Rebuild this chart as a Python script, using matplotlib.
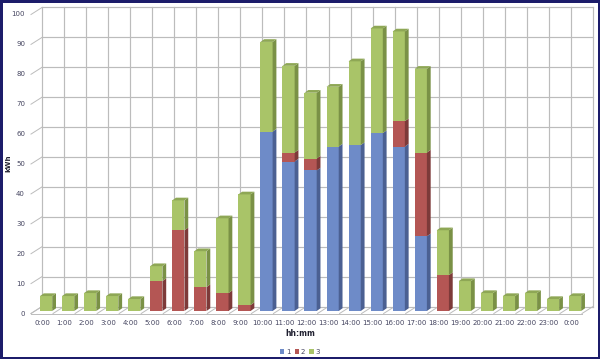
import matplotlib.pyplot as plt
from matplotlib.patches import Polygon

hours = ["0:00", "1:00", "2:00", "3:00", "4:00", "5:00", "6:00", "7:00", "8:00", "9:00",
         "10:00", "11:00", "12:00", "13:00", "14:00", "15:00", "16:00", "17:00", "18:00",
         "19:00", "20:00", "21:00", "22:00", "23:00", "0:00"]
s1 = [0, 0, 0, 0, 0, 0, 0, 0, 0, 0, 60, 50, 47, 55, 55.5, 59.5, 55, 25, 0, 0, 0, 0, 0, 0, 0]
s2 = [0, 0, 0, 0, 0, 10, 27, 8, 6, 2, 0, 3, 4, 0, 0, 0, 8.5, 28, 12, 0, 0, 0, 0, 0, 0]
s3 = [5, 5, 6, 5, 4, 5, 10, 12, 25, 37, 30, 29, 22, 20, 28, 35, 30, 28, 15, 10, 6, 5, 6, 4, 5]
yticks = list(range(0, 101, 10))

series = [("1", s1, "#6e8bc8", "#4b6092", "#5d77b0"),
          ("2", s2, "#b45654", "#7d3a39", "#9a4847"),
          ("3", s3, "#a9c468", "#7a9146", "#8ea755")]

# pixel scale: 22.04 px per category, 2.99 px per kWh
PX = 1 / 22.04
PY = 1 / 2.99
WX, WY = 11 * PX, 4.5 * PY        # back wall offset
FY = WY - 7 * PY                  # floor front edge
BX0, BW = 9 * PX, 12.2 * PX       # bar front face
DX, DY = 3.8 * PX, 2.7 * PY       # bar depth
GRID = "#bcbcbc"
TXT = "#454560"

fig = plt.figure(figsize=(6, 3.59), dpi=100)
fig.patch.set_edgecolor("#1c1c6a")
fig.patch.set_linewidth(2.2)
ax = fig.add_axes([0, 0, 1, 1])
ax.set_xlim(-31 * PX, 569 * PX)
ax.set_ylim(-48 * PY, 311 * PY)
ax.axis("off")

n = len(hours)

# back wall grid
for v in yticks:
    ax.plot([WX, n + WX], [v + WY, v + WY], color=GRID, lw=0.85, zorder=1)
    ax.plot([0, WX], [v + FY, v + WY], color=GRID, lw=0.7, zorder=1)
    ax.text(-6 * PX, v + FY, str(v), ha="right", va="center", fontsize=5, color=TXT)
for k in range(n + 1):
    ax.plot([k + WX, k + WX], [WY, 100 + WY], color=GRID, lw=0.85, zorder=1)
    ax.plot([k, k + WX], [FY, WY], color=GRID, lw=0.7, zorder=1)
ax.plot([0, n], [FY, FY], color=GRID, lw=0.7, zorder=1)

# stacked bars with pseudo-3d side/top faces
xs = [i + BX0 for i in range(n)]
bottom = [0] * n
for name, vals, front, side, top in series:
    ax.bar(xs, vals, width=BW, bottom=bottom, align="edge", color=front,
           linewidth=0, label=name, zorder=3)
    for i, v in enumerate(vals):
        if v <= 0:
            continue
        x1 = xs[i] + BW
        b, t = bottom[i], bottom[i] + v
        ax.add_patch(Polygon([(x1, b), (x1 + DX, b + DY), (x1 + DX, t + DY), (x1, t)],
                             closed=True, facecolor=side, edgecolor="none", zorder=3))
    bottom = [b + v for b, v in zip(bottom, vals)]

# top faces for the top of every stack
for i in range(n):
    t = bottom[i]
    top = series[0][4]
    for name, vals, front, side, tc in series:
        if vals[i] > 0:
            top = tc
    ax.add_patch(Polygon([(xs[i], t), (xs[i] + BW, t), (xs[i] + BW + DX, t + DY),
                          (xs[i] + DX, t + DY)],
                         closed=True, facecolor=top, edgecolor="none", zorder=3))

for i, lab in enumerate(hours):
    ax.text(i + 0.5, -12 * PY, lab, ha="center", va="center", fontsize=5, color=TXT)

ax.text(-23 * PX, 148 * PY, "kWh", rotation=90, ha="center", va="center",
        fontsize=5, fontweight="bold", color="#202030")
ax.text(269 * PX, -23 * PY, "hh:mm", ha="center", va="center",
        fontsize=5.5, fontweight="bold", color="#202030")

ax.legend(loc="center", bbox_to_anchor=(0.5, 7 / 359), ncol=3, frameon=False,
          fontsize=5, handlelength=0.6, handleheight=0.6, handletextpad=0.3,
          columnspacing=0.6, labelcolor=TXT)

fig.savefig("out.png", dpi=100)
